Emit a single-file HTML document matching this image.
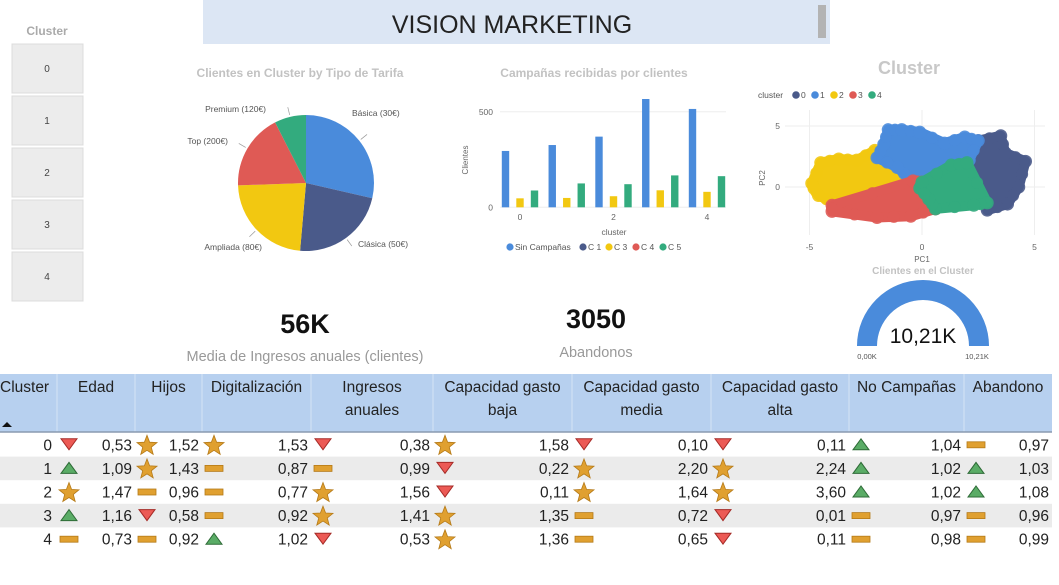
<!DOCTYPE html>
<html><head><meta charset="utf-8"><style>
body{margin:0;background:#fff;width:1059px;height:580px;overflow:hidden;font-family:"Liberation Sans",sans-serif}
svg text{font-family:"Liberation Sans",sans-serif}
</style></head><body>
<svg id="s" width="1059" height="580" xmlns="http://www.w3.org/2000/svg">
<rect x="203" y="0" width="627" height="44" fill="#dce6f4"/>
<rect x="818" y="5" width="8" height="33" fill="#b3b3b3"/>
<text x="512" y="33" font-size="25" text-anchor="middle" fill="#222">VISION MARKETING</text>
<text x="47" y="35" font-size="12" font-weight="bold" text-anchor="middle" fill="#aaa">Cluster</text>
<g id="slicer"></g>
<text x="300" y="77" font-size="12" font-weight="bold" text-anchor="middle" fill="#c2c2c2">Clientes en Cluster by Tipo de Tarifa</text>
<g id="pie"></g>
<text x="594" y="77" font-size="12" font-weight="bold" text-anchor="middle" fill="#c2c2c2">Campañas recibidas por clientes</text>
<g id="bar"></g>
<text x="909" y="74" font-size="18" font-weight="bold" text-anchor="middle" fill="#c8c8c8">Cluster</text>
<g id="scatter"></g>
<text x="923" y="274" font-size="10" font-weight="bold" text-anchor="middle" fill="#c2c2c2">Clientes en el Cluster</text>
<g id="gauge"></g>
<text x="305" y="333" font-size="27" font-weight="bold" text-anchor="middle" fill="#111">56K</text>
<text x="305" y="361" font-size="14.5" text-anchor="middle" fill="#999">Media de Ingresos anuales (clientes)</text>
<text x="596" y="328" font-size="27" font-weight="bold" text-anchor="middle" fill="#111">3050</text>
<text x="596" y="357" font-size="14.5" text-anchor="middle" fill="#999">Abandonos</text>
<g id="table"></g>
</svg>
<script>
const NS="http://www.w3.org/2000/svg";
function mk(p,t,a,txt){const e=document.createElementNS(NS,t);for(const k in a)e.setAttribute(k,a[k]);if(txt!==undefined)e.textContent=txt;p.appendChild(e);return e;}
const G=id=>document.getElementById(id);

// slicer
const slicerItems=["0","1","2","3","4"];
slicerItems.forEach((c,i)=>{const y=44+i*52;
 const r=mk(G('slicer'),'rect',{x:12,y:y,width:71,height:49,fill:'#ececec',stroke:'#dcdcdc'});
 
 
 const t=mk(G('slicer'),'text',{x:47,y:y+28,'font-size':10,'text-anchor':'middle',fill:'#444'},c);
 
 
});

// pie
const pieLabels=["Básica (30€)","Clásica (50€)","Ampliada (80€)","Top (200€)","Premium (120€)"];
const pieValues=[103,82,83,65,27];
const pieColors=["#4a8bdb","#4a5a8a","#f2c811","#df5a55","#33ab7e"];
const pieLabelPos=[[352,116,'start'],[358,247,'start'],[262,250,'end'],[228,144,'end'],[266,112,'end']];
(function(){const cx=306,cy=183,R=68,tot=pieValues.reduce((a,b)=>a+b,0);let a0=0;
 pieValues.forEach((v,i)=>{const a1=a0+v/tot*2*Math.PI;
  const p=(a)=>[cx+R*Math.sin(a),cy-R*Math.cos(a)];const s=p(a0),e=p(a1);
  const path=mk(G('pie'),'path',{d:`M${cx},${cy}L${s[0]},${s[1]}A${R},${R} 0 ${a1-a0>Math.PI?1:0} 1 ${e[0]},${e[1]}Z`,fill:pieColors[i]});
  
  
  const m=(a0+a1)/2,q=[cx+(R+2)*Math.sin(m),cy-(R+2)*Math.cos(m)],q2=[cx+(R+10)*Math.sin(m),cy-(R+10)*Math.cos(m)];
  mk(G('pie'),'line',{x1:q[0],y1:q[1],x2:q2[0],y2:q2[1],stroke:'#999','stroke-width':0.7});
  const L=pieLabelPos[i];
  const t=mk(G('pie'),'text',{x:L[0],y:L[1],'font-size':8.5,'text-anchor':L[2],fill:'#555'},pieLabels[i]);
  
  
  a0=a1;});
})();

// bar chart
const barCats=[0,1,2,3,4];
const sinCamp=[295,326,370,567,515];
const c3=[47,49,58,89,81];
const c5=[88,125,121,167,163];
const barYTicks=[0,500];
const barXTicks=[0,2,4];
(function(){const g=G('bar');const x=c=>520+c*46.75,y=v=>207.3-v*0.191;
 barYTicks.forEach(t=>{mk(g,'line',{x1:500,x2:726,y1:y(t),y2:y(t),stroke:'#eee'});
  const tt=mk(g,'text',{x:493,y:y(t)+3,'font-size':8.5,'text-anchor':'end',fill:'#666'},t);
  });
 barXTicks.forEach(t=>{const tt=mk(g,'text',{x:x(t),y:220,'font-size':8.5,'text-anchor':'middle',fill:'#666'},t);
  });
 [[sinCamp,-14.5,'#4a8bdb','sin-campanas'],[c3,0,'#f2c811','c3'],[c5,14.5,'#33ab7e','c5']].forEach(([arr,off,col,nm])=>{
  arr.forEach((v,i)=>{const r=mk(g,'rect',{x:x(barCats[i])+off-3.7,y:y(v),width:7.4,height:207.3-y(v),fill:col});
   });});
 const yl=mk(g,'text',{x:0,y:0,'font-size':8,'text-anchor':'middle',fill:'#666',transform:'translate(468,160) rotate(-90)'},'Clientes');
 
 const xl=mk(g,'text',{x:614,y:235,'font-size':8.5,'text-anchor':'middle',fill:'#666'},'cluster');
 
 const leg=[["Sin Campañas","#4a8bdb",510],["C 1","#4a5a8a",583],["C 3","#f2c811",609],["C 4","#df5a55",636],["C 5","#33ab7e",663]];
 leg.forEach(([n,c,lx])=>{mk(g,'circle',{cx:lx,cy:247,r:3.6,fill:c});
  const t=mk(g,'text',{x:lx+5,y:250,'font-size':8.5,fill:'#555'},n);
  });
})();

// scatter
const clusterIds=[0,1,2,3,4];
const clusterColors=["#4a5a8a","#4a8bdb","#f2c811","#df5a55","#33ab7e"];
const hull2=[[-4.9,0.3],[-4.5,2],[-3.7,2.3],[-2.9,2.2],[-2.1,3],[-1.5,2.6],[-1.1,1.6],[-0.4,0.5],[-1.5,0],[-3.9,-1.3],[-4.6,-0.7],[-4.8,-0.1]];
const hull1=[[-2.0,2.4],[-1.7,3.5],[-1.5,4.7],[-0.9,4.7],[-0.1,4.5],[1,3.6],[1.9,4.1],[2.5,3.8],[2.1,2.2],[1.3,1.8],[0,0.4],[-0.5,0.6],[-1.1,1.6]];
const hull0=[[2.1,2.2],[2.5,3.8],[3.5,4.2],[3.7,2.8],[4.6,2.1],[4.3,0],[3.8,-1.4],[2.9,-1.9],[2.9,-1.3],[2.0,2.0]];
const hull3=[[-4,-1.5],[-0.4,0.5],[0,0.4],[-0.1,-0.1],[0.6,-1.8],[-0.5,-2.4],[-2,-2.5],[-4,-2]];
const hull4=[[-0.1,-0.1],[0,0.4],[1.3,1.8],[2.0,2.0],[2.9,-1.3],[2.3,-1.5],[0.6,-1.8],[0.3,-1.0]];
const pcTicks=[-5,0,5];
const pc2Ticks=[0,5];
(function(){const g=G('scatter');const X=v=>922+v*22.5,Y=v=>187-v*12.2;
 pcTicks.forEach(t=>{mk(g,'line',{x1:X(t),x2:X(t),y1:110,y2:235,stroke:'#eee'});
  const tt=mk(g,'text',{x:X(t),y:250,'font-size':8.5,'text-anchor':'middle',fill:'#666'},t);
  });
 pc2Ticks.forEach(t=>{mk(g,'line',{x1:785,x2:1045,y1:Y(t),y2:Y(t),stroke:'#eee'});
  const tt=mk(g,'text',{x:780,y:Y(t)+3,'font-size':8.5,'text-anchor':'end',fill:'#666'},t);
  });
 [[hull0,0],[hull2,2],[hull1,1],[hull3,3],[hull4,4]].forEach(([h,c])=>{
  const pts=h.map(p=>X(p[0])+','+Y(p[1])).join(' ');
  const pg=mk(g,'polygon',{points:pts,fill:clusterColors[c],stroke:clusterColors[c],'stroke-width':10,'stroke-linejoin':'round'});
  
  h.forEach((p,i)=>{const q=h[(i+1)%h.length];
   mk(g,'circle',{cx:X(p[0]),cy:Y(p[1]),r:6.5,fill:clusterColors[c],opacity:0.9});
   mk(g,'circle',{cx:(X(p[0])+X(q[0]))/2,cy:(Y(p[1])+Y(q[1]))/2,r:6,fill:clusterColors[c],opacity:0.9});});});
 const yl=mk(g,'text',{x:0,y:0,'font-size':8,'text-anchor':'middle',fill:'#666',transform:'translate(765,178) rotate(-90)'},'PC2');
 
 const xl=mk(g,'text',{x:922,y:262,'font-size':8,'text-anchor':'middle',fill:'#666'},'PC1');
 
 const lt=mk(g,'text',{x:758,y:98,'font-size':8.5,fill:'#555'},'cluster');
 
 clusterIds.forEach((c,i)=>{const lx=796+i*19;mk(g,'circle',{cx:lx,cy:95,r:3.8,fill:clusterColors[c]});
  const t=mk(g,'text',{x:lx+5,y:98,'font-size':8.5,fill:'#555'},c);
  });
})();

// gauge
const gaugeValue=10.21, gaugeMax=10.21;
(function(){const g=G('gauge');const cx=923,cy=346,R=66,r=46;const f=gaugeValue/gaugeMax;
 mk(g,'path',{d:`M${cx-R},${cy}A${R},${R} 0 0 1 ${cx+R},${cy}L${cx+r},${cy}A${r},${r} 0 0 0 ${cx-r},${cy}Z`,fill:'#e6e6e6'});
 const a=Math.PI*(1-f),ex=cx+R*Math.cos(a),ey=cy-R*Math.sin(a),ix=cx+r*Math.cos(a),iy=cy-r*Math.sin(a);
 const arc=mk(g,'path',{d:`M${cx-R},${cy}A${R},${R} 0 0 1 ${ex},${ey}L${ix},${iy}A${r},${r} 0 0 0 ${cx-r},${cy}Z`,fill:'#4a8bdb'});
 
 const v=mk(g,'text',{x:cx,y:343,'font-size':21,'text-anchor':'middle',fill:'#111'},gaugeValue.toFixed(2).replace('.',',')+'K');
 
 const mn=mk(g,'text',{x:867,y:359,'font-size':7.5,'text-anchor':'middle',fill:'#555'},'0,00K');
 
 const mx=mk(g,'text',{x:977,y:359,'font-size':7.5,'text-anchor':'middle',fill:'#555'},'10,21K');
 
})();

// table
const colHeaders=[["Cluster"],["Edad"],["Hijos"],["Digitalización"],["Ingresos","anuales"],["Capacidad gasto","baja"],["Capacidad gasto","media"],["Capacidad gasto","alta"],["No Campañas"],["Abandono"]];
const colEdges=[0,57,135,202,311,433,572,711,849,964,1052];
const tableValues=[
 [0.53,1.52,1.53,0.38,1.58,0.10,0.11,1.04,0.97],
 [1.09,1.43,0.87,0.99,0.22,2.20,2.24,1.02,1.03],
 [1.47,0.96,0.77,1.56,0.11,1.64,3.60,1.02,1.08],
 [1.16,0.58,0.92,1.41,1.35,0.72,0.01,0.97,0.96],
 [0.73,0.92,1.02,0.53,1.36,0.65,0.11,0.98,0.99]];
const tableIcons=[
 ["d","s","s","d","s","d","d","u","m"],
 ["u","s","m","m","d","s","s","u","u"],
 ["s","m","m","s","d","s","s","u","u"],
 ["u","d","m","s","s","m","d","m","m"],
 ["m","m","u","d","s","m","d","m","m"]];
(function(){const g=G('table');
 mk(g,'rect',{x:0,y:374,width:1052,height:58,fill:'#b7d0ef'});
 for(let i=1;i<colEdges.length-1;i++)mk(g,'line',{x1:colEdges[i],x2:colEdges[i],y1:374,y2:432,stroke:'#d6e4f6'});
 mk(g,'line',{x1:0,x2:1052,y1:432,y2:432,stroke:'#8a9ab0','stroke-width':1.5});
 colHeaders.forEach((h,i)=>{const cx=i==0?0:(colEdges[i]+colEdges[i+1])/2;
  h.forEach((line,k)=>{const t=mk(g,'text',{x:cx,y:392+k*23,'font-size':15.5,'text-anchor':i==0?'start':'middle',fill:'#222'},line);
   });});
 mk(g,'path',{d:'M2,427 L7,422 L12,427Z',fill:'#111'});
 tableValues.forEach((row,r)=>{const y0=433+r*23.6,cy=y0+11.8;
  if(r%2==1)mk(g,'rect',{x:0,y:y0,width:1052,height:23.6,fill:'#ebebeb'});
  const ct=mk(g,'text',{x:52,y:cy+5.5,'font-size':15.5,'text-anchor':'end',fill:'#222'},r);
  
  row.forEach((v,c)=>{const L=colEdges[c+1],R=colEdges[c+2];const ix=L+12,ic=tableIcons[r][c];
   let ico;
   if(ic=='d')ico=mk(g,'path',{d:`M${ix-8},${cy-6}L${ix+8},${cy-6}L${ix},${cy+5}Z`,fill:'#ec5a55',stroke:'#a52a26','stroke-width':1});
   else if(ic=='u')ico=mk(g,'path',{d:`M${ix-8},${cy+5}L${ix+8},${cy+5}L${ix},${cy-6}Z`,fill:'#5aac66',stroke:'#2e6b37','stroke-width':1});
   else if(ic=='m')ico=mk(g,'rect',{x:ix-9,y:cy-3,width:18,height:6,fill:'#e0a030',stroke:'#b57a18','stroke-width':0.8});
   else{let pts=[];for(let k=0;k<10;k++){const a=-Math.PI/2+k*Math.PI/5,rr=k%2?4.5:10.5;pts.push((ix+rr*Math.cos(a)).toFixed(1)+','+(cy+1+rr*Math.sin(a)).toFixed(1));}
    ico=mk(g,'polygon',{points:pts.join(' '),fill:'#e0a030',stroke:'#b57a18','stroke-width':0.8});}
   
   const t=mk(g,'text',{x:R-3,y:cy+5.5,'font-size':15.5,'text-anchor':'end',fill:'#222'},v.toFixed(2).replace('.',','));
   
  });});
})();
</script>
</body></html>
